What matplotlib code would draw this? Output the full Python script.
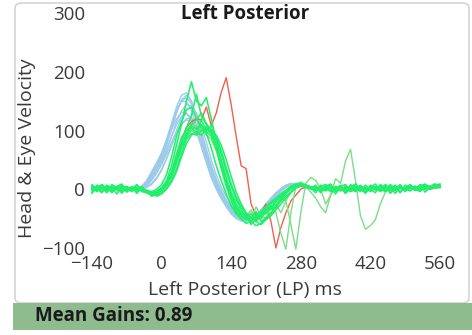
import numpy as np
import matplotlib
matplotlib.use("Agg")
import matplotlib.pyplot as plt
from matplotlib.patches import Rectangle, FancyBboxPatch

# time axis (ms) for eye traces and head traces
t_eye = np.arange(-140, 561, 10)
t_head = np.arange(-60, 321, 10)

# head velocity traces (deg/s)
head_traces = [
    [0, 1, 5, 15, 30, 45, 62, 85, 112, 140, 160, 164, 150, 122, 88, 56, 26, 5, -12, -26,
     -38, -46, -51, -53, -51, -46, -38, -29, -19, -9, -1, 5, 8, 9, 7, 4, 2, 0, 0],
    [0, 0, 3, 10, 22, 38, 55, 78, 105, 132, 150, 156, 146, 122, 92, 62, 32, 10, -8, -22,
     -35, -44, -50, -52, -50, -45, -37, -28, -18, -8, 0, 6, 9, 9, 6, 3, 1, 0, 0],
    [0, 0, 2, 6, 15, 28, 44, 65, 90, 115, 133, 144, 142, 125, 98, 68, 38, 14, -5, -20,
     -33, -43, -49, -52, -50, -44, -36, -26, -16, -7, 1, 7, 10, 9, 6, 3, 1, 0, 0],
    [0, 1, 4, 12, 26, 42, 58, 80, 102, 120, 131, 130, 118, 98, 72, 45, 20, 2, -14, -28,
     -40, -48, -53, -54, -50, -44, -35, -25, -15, -6, 1, 6, 8, 7, 5, 2, 1, 0, 0],
    [0, 0, 1, 4, 10, 20, 34, 52, 74, 95, 110, 120, 122, 112, 92, 66, 40, 16, -2, -18,
     -30, -40, -47, -50, -49, -45, -38, -29, -19, -10, -2, 5, 9, 10, 8, 5, 2, 0, 0],
    [0, 1, 4, 13, 28, 44, 60, 82, 108, 134, 150, 149, 134, 108, 78, 48, 20, 0, -16, -30,
     -42, -50, -54, -55, -52, -46, -37, -27, -17, -8, 0, 6, 9, 8, 5, 3, 1, 0, 0],
    [0, 0, 1, 3, 8, 18, 32, 52, 76, 100, 122, 136, 140, 130, 108, 80, 50, 24, 4, -12,
     -26, -38, -46, -50, -51, -48, -42, -34, -24, -14, -5, 3, 8, 10, 9, 6, 3, 1, 0],
    [0, 0, 2, 8, 18, 32, 48, 68, 90, 110, 124, 128, 122, 104, 80, 54, 28, 8, -10, -24,
     -36, -45, -50, -52, -49, -43, -35, -26, -16, -7, 0, 6, 9, 8, 6, 3, 1, 0, 0],
    [0, 1, 3, 10, 22, 36, 52, 75, 102, 130, 152, 160, 150, 126, 96, 64, 34, 12, -6, -21,
     -34, -44, -50, -53, -52, -47, -39, -30, -20, -10, -2, 4, 8, 9, 7, 4, 2, 0, 0],
    [0, 0, 2, 7, 16, 28, 42, 60, 80, 98, 112, 118, 116, 102, 82, 58, 32, 12, -6, -20,
     -32, -42, -48, -51, -50, -46, -39, -30, -20, -11, -3, 4, 8, 9, 7, 4, 2, 0, 0],
]

# eye velocity traces (deg/s), -140..560 ms
eye_traces = [
    [6, -4, 8, 2, -6, 5, 9, -3, 4, -7, 2,
     -4, -8, -5, 2, 15, 40, 75, 110, 150, 183, 150, 142, 156, 120, 80, 45, 15, -10, -30, -45,
     -52, -48, -55, -45, -30, -35, -20, -12, -5, 3, 8, 10, 6, 4,
     4, -6, 7, 2, -8, 5, 8, -4, 0, 7, -6, 3, 9, -2, 5, -7, 2, 8, -4, 5, 0, 7, -5, 3, 9, 5],
    [-5, 7, 2, -6, 8, 3, -7, 5, 0, 8, -4,
     -6, -10, -4, 0, 8, 25, 50, 80, 105, 125, 162, 125, 110, 100, 70, 35, 5, -20, -38, -50,
     -58, -55, -45, -50, -38, -25, -18, -10, -2, 5, 9, 7, 5, 2,
     -6, 7, 0, 8, -4, 5, -7, 3, 9, 0, -6, 7, 2, -4, 8, 3, -7, 5, 0, 8, -2, 5, 9, 2, 7, 8],
    [8, 0, -6, 7, 2, -8, 5, 3, -4, 7, 0,
     -3, -12, -8, -2, 10, 30, 60, 88, 100, 108, 102, 110, 98, 90, 70, 40, 12, -12, -32, -42,
     -45, -60, -50, -40, -42, -30, -22, -10, -4, 2, 6, 8, 4, 1,
     7, -4, 5, 9, -2, 3, -7, 8, 2, -4, 7, 0, -6, 8, 3, -2, 7, -5, 3, 8, 0, -4, 7, 5, 9, 3],
    [-7, 3, 8, -2, 5, 0, 7, -5, 2, -4, 5,
     -5, -8, -10, -6, 2, 15, 35, 60, 85, 95, 92, 100, 105, 95, 85, 60, 30, 5, -18, -35,
     -48, -55, -62, -58, -50, -42, -30, -20, -12, -5, 2, 6, 5, 3,
     -2, 5, 8, -4, 0, 7, -6, 3, 8, 2, -7, 5, 0, 7, -4, 8, 2, -6, 7, 3, -2, 8, 5, 0, 7, 9],
    [1, -3, 2, 5, -2, 3, -4, 0, 4, 1, -3,
     -2, -6, -3, 3, 12, 28, 50, 75, 95, 110, 118, 130, 112, 100, 78, 50, 20, -5, -25, -40,
     -48, -42, -52, -45, -35, -28, -32, -18, -8, 0, 5, 8, 6, 3,
     2, -4, 1, 4, -2, 5, 0, 3, -3, 4, 2, -1, 5, 0, -4, 3, 1, 4, -2, 2, 5, -1, 3, 4, 2, 5],
    [3, 0, -4, 2, 5, -1, 3, -3, 4, 0, 2,
     -2, -4, 0, 8, 25, 55, 90, 115, 135, 140, 120, 105, 95, 70, 40, 15, -8, -28, -42, -50,
     -45, -55, -48, -38, -30, -22, -15, -8, -2, 4, 7, 6, 3, 2,
     -2, 4, 1, -3, 5, 2, 0, -4, 3, 5, -1, 2, 4, -3, 1, 5, -2, 3, 0, 4, 2, -3, 5, 1, 4, 3],
    [-1, 5, 2, -3, 0, 4, -2, 3, 1, -4, 2,
     -6, -9, -7, -1, 7, 22, 45, 70, 90, 105, 95, 118, 100, 108, 90, 65, 35, 8, -15, -30,
     -42, -50, -38, -55, -48, -40, -28, -15, -6, 1, 7, 9, 5, 2,
     3, 0, -3, 4, 2, -2, 5, 1, -4, 3, 0, 4, -1, 2, 5, -3, 3, 1, -2, 4, 0, 5, 2, 3, 6, 4],
    [4, -2, 1, 3, -4, 2, 5, 0, -3, 3, -1,
     -3, -7, -12, -8, 0, 12, 30, 55, 78, 92, 98, 92, 102, 96, 92, 75, 50, 22, -5, -25,
     -40, -48, -55, -60, -52, -45, -35, -25, -15, -6, 2, 5, 7, 4,
     1, 4, -2, 3, 0, -3, 5, 2, 4, -1, 3, -4, 2, 5, 0, 3, -2, 4, 1, -3, 5, 2, 0, 4, 3, 5],
]

# eye traces with late saccades / dips
late_traces = [
    [2, -3, 4, 1, -2, 5, 0, -4, 3, 2, -1,
     -4, -8, -6, 0, 10, 28, 55, 82, 100, 112, 105, 98, 108, 92, 70, 40, 10, -15, -35, -48,
     -40, -52, -30, -45, -50, -30, -40, -75, -102, -40, 5, 12, 8, 4,
     3, -2, 5, 1, -3, 4, 0, 2, -4, 5, 3, -1, 4, 2, -3, 5, 0, 3, 1, -2, 4, 5, -1, 3, 2, 4],
    [-3, 1, 4, -2, 3, 0, 5, -1, 2, -4, 3,
     -2, -6, -9, -3, 5, 20, 42, 68, 88, 100, 108, 100, 95, 102, 88, 65, 38, 10, -12, -30,
     -45, -35, -50, -42, -30, -45, -25, -40, -20, -60, -102, -40, 10, 20,
     15, 0, -25, -10, 3, 2, -3, 4, 0, 3, -2, 5, 1, -3, 4, 2, 0, 5, -1, 3, 4, -2, 2, 5, 3, 4],
    [0, 4, -2, 3, 5, -3, 1, 4, -1, 2, 0,
     -5, -9, -5, 1, 10, 25, 50, 75, 92, 100, 95, 105, 92, 85, 65, 38, 12, -12, -30, -42,
     -48, -40, -45, -38, -30, -20, -28, -15, -20, -5, 8, 12, 5, -5,
     -15, -30, -40, -10, 18, 10, 48, 68, 15, -45, -68, -62, -52, -25, -5, 3, 0, 4, -2, 3, 5, 0, 4, 2, 5, 3],
]

# rejected impulse
red_trace = [2, -2, 3, 0, -3, 4, 1, -2, 3, 0, -1,
             -4, -8, -5, 0, 10, 28, 55, 85, 105, 115, 120, 118, 140, 108, 130, 165, 190, 144, 90, 40,
             35, -25, -45, -40, -25, -55, -100, -65, -40, -20, -10, 0, 4, 2,
             3, -2, 4, 1, -3, 2, 3, 0, -2, 2, 1, 3, -1, 2, 3, -2, 0, 2, 2, -2, 3, 1, 2, 0, 2, 3]

x_ticks = [-140, 0, 140, 280, 420, 560]
y_ticks = [-100, 0, 100, 200, 300]
mean_gain = 0.89

plt.rcParams["font.family"] = ["Open Sans", "DejaVu Sans"]

fig = plt.figure(figsize=(4.72, 3.35), dpi=100)
W, H = 472, 335

# panel frame and bottom gain bar
fig.patches.append(FancyBboxPatch((15 / W, 1 - 303 / H), 454 / W, 300 / H,
                                  boxstyle="round,pad=0,rounding_size=0.015",
                                  transform=fig.transFigure, facecolor="none",
                                  edgecolor="#d4d4d4", lw=1.2, zorder=-1))
fig.patches.append(Rectangle((13 / W, 1 - 330 / H), (W - 13) / W, 27 / H,
                             transform=fig.transFigure, facecolor="#8fbc8f",
                             edgecolor="none", zorder=-1))
fig.text(35 / W, 1 - 316 / H, f"Mean Gains: {mean_gain:.2f}", fontsize=13.5,
         fontweight="bold", color="#1a1a1a", va="center", ha="left")

ax = fig.add_axes([92 / W, 1 - 248 / H, (440 - 92) / W, (248 - 13) / H])
ax.set_facecolor("none")

for h in head_traces:
    ax.plot(t_head, h, color="#9ccbea", lw=1.0, clip_on=False)
ax.plot(t_eye, red_trace, color="#f0604a", lw=1.0, clip_on=False)
for e in late_traces:
    ax.plot(t_eye, e, color="#7ade86", lw=1.0, clip_on=False)
for e in eye_traces:
    ax.plot(t_eye, e, color="#1fef6a", lw=1.1, clip_on=False)

ax.set_xlim(-140, 560)
ax.set_ylim(-100, 300)
ax.set_xticks(x_ticks)
ax.set_yticks(y_ticks)
ax.tick_params(length=0, labelsize=13.5, labelcolor="#3a3a3a")
ax.tick_params(axis="y", pad=5)
ax.tick_params(axis="x", pad=5)
for s in ax.spines.values():
    s.set_visible(False)

fig.text(245 / W, 1 - 14 / H, "Left Posterior", fontsize=13.5, fontweight="bold",
         color="#1a1a1a", ha="center", va="center")
fig.text(245 / W, 1 - 290 / H, "Left Posterior (LP) ms", fontsize=14,
         color="#3a3a3a", ha="center", va="center")
fig.text(27 / W, 1 - 148 / H, "Head & Eye Velocity", fontsize=14,
         color="#3a3a3a", ha="center", va="center", rotation=90)

fig.savefig("out.png", dpi=100)
